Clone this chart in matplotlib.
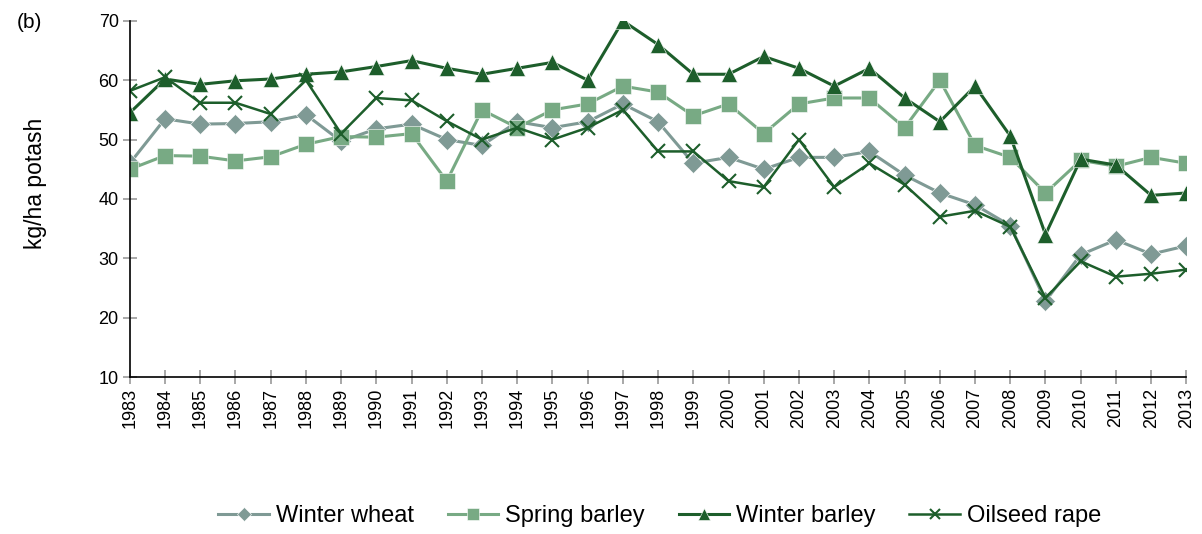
import numpy as np
import matplotlib.pyplot as plt

plt.rcParams['font.family'] = ['Liberation Sans', 'DejaVu Sans']

years = list(range(1983, 2014))

winter_wheat = [46, 53.5, 52.6, 52.7, 53, 54.2, 49.7, 51.8, 52.6, 50, 49, 53, 52, 53, 56, 53,
                46, 47, 45, 47, 47, 48, 44, 41, 39, 35.5, 22.8, 30.6, 33.1, 30.7, 32.1]
spring_barley = [45, 47.3, 47.2, 46.4, 47.1, 49.2, 50.5, 50.4, 51, 43, 55, 52, 55, 56, 59, 58,
                 54, 56, 51, 56, 57, 57, 52, 60, 49, 47, 41, 46.5, 45.5, 47, 46]
winter_barley = [54.5, 60.2, 59.3, 59.9, 60.2, 61, 61.4, 62.3, 63.3, 62, 61, 62, 63, 60, 70, 66,
                 61, 61, 64, 62, 59, 62, 57, 53, 59, 50.6, 34, 46.7, 45.7, 40.6, 41]
oilseed_rape = [58.2, 60.5, 56.2, 56.2, 54.3, 60, 51, 57, 56.6, 53.1, 50, 52, 50, 52, 55, 48,
                48, 43, 42, 50, 42, 46, 42.4, 37, 38, 35.3, 23.3, 29.5, 26.9, 27.4, 28.1]

fig = plt.figure(figsize=(12.02, 5.34), dpi=100)
ax = fig.add_axes([0.108, 0.294, 0.879, 0.667])

c_wheat = '#7f9a95'
c_spring = '#78aa84'
c_dark = '#1d5e2b'

ax.plot(years, winter_wheat, color=c_wheat, lw=2.2, marker='D', ms=10,
        mec='white', mew=0.4, label='Winter wheat')
ax.plot(years, spring_barley, color=c_spring, lw=2.2, marker='s', ms=11,
        mec='white', mew=0.4, label='Spring barley')
ax.plot(years, winter_barley, color=c_dark, lw=2.2, marker='^', ms=11,
        mec='white', mew=0.4, label='Winter barley')
ax.plot(years, oilseed_rape, color=c_dark, lw=1.8, marker='x', ms=10,
        mew=1.5, label='Oilseed rape')

ax.set_xlim(1983, 2013)
ax.set_ylim(10, 70)
ax.set_yticks(range(10, 71, 10))
ax.set_xticks(years)
ax.set_xticklabels([str(y) for y in years], rotation=90)

for s in ['top', 'right']:
    ax.spines[s].set_visible(False)
for s in ['left', 'bottom']:
    ax.spines[s].set_linewidth(1.2)
    ax.spines[s].set_color('black')

ax.tick_params(axis='both', direction='inout', length=10, width=1.2,
               color='#999999', labelsize=13, pad=3)
ax.set_ylabel('kg/ha potash', fontsize=16.5)
ax.yaxis.set_label_coords(-0.078, 0.545)

fig.text(0.014, 0.948, '(b)', fontsize=15)

fig.legend(loc='center', bbox_to_anchor=(0.549, 0.033), ncol=4,
           frameon=False, fontsize=17, markerscale=0.75, handlelength=2.15,
           handletextpad=0.3, columnspacing=1.42)

fig.savefig('out.png', dpi=100)
